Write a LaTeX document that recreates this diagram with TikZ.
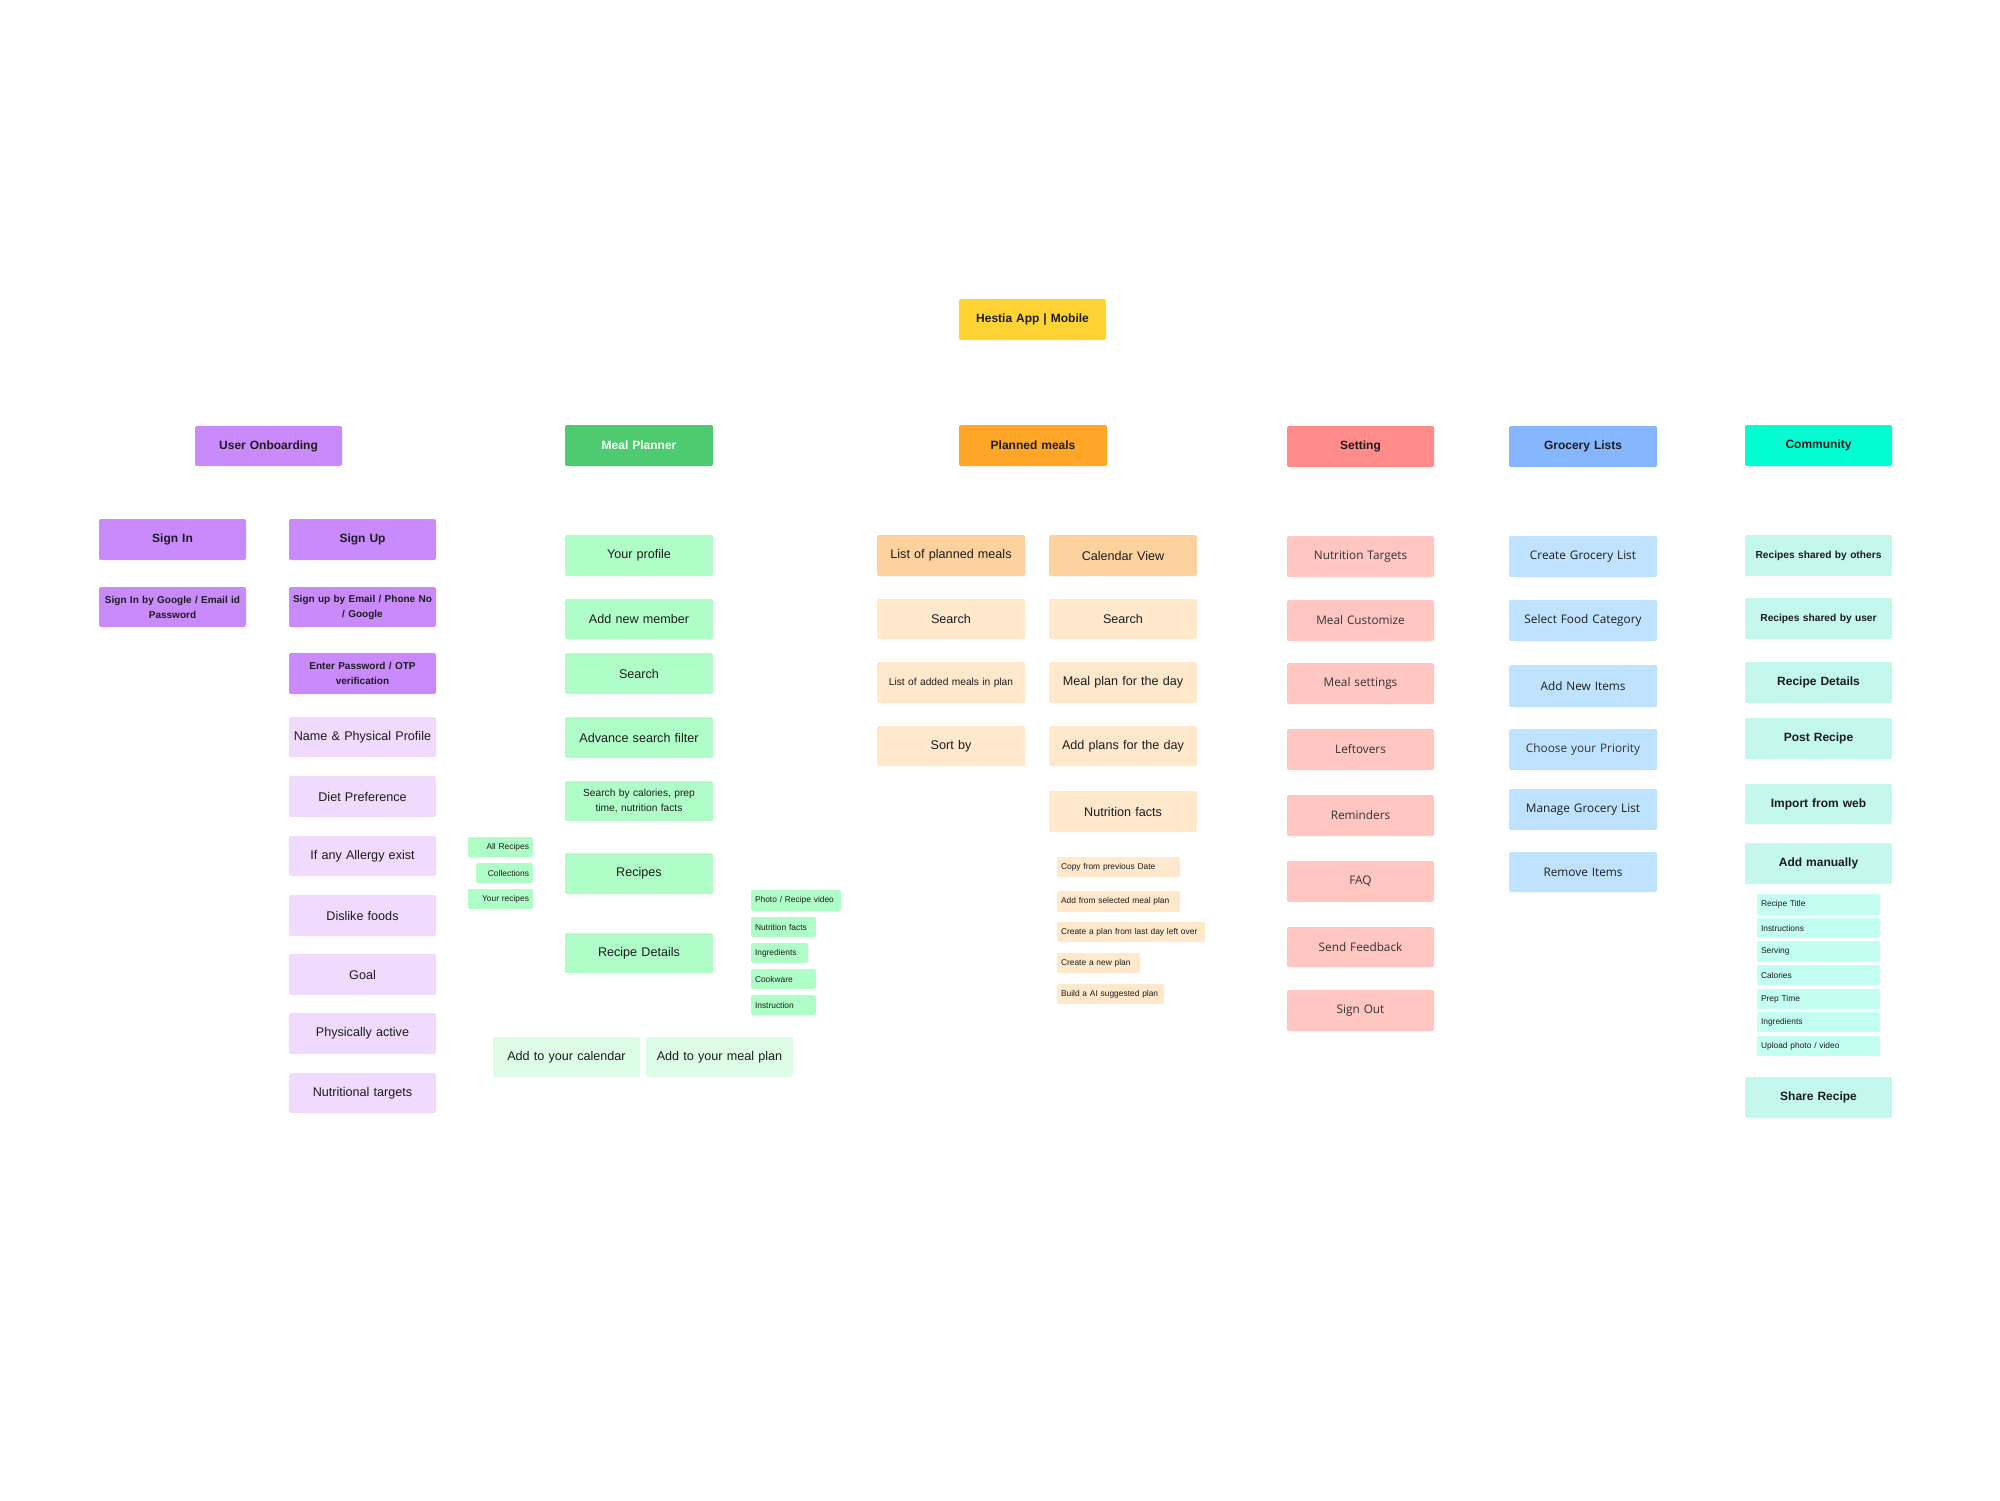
\documentclass[tikz,border=0pt]{standalone}
\usepackage{fontspec}
\setmainfont{Liberation Sans}
\newfontfamily\osans{Open Sans}
\definecolor{cYel}{HTML}{FFD333}
\definecolor{cPur}{HTML}{C98AFB}
\definecolor{cPurL}{HTML}{F0DAFD}
\definecolor{cGrn}{HTML}{4ECB71}
\definecolor{cGrnL}{HTML}{AFFEC8}
\definecolor{cGrnXL}{HTML}{DEFDE6}
\definecolor{cOrg}{HTML}{FFA629}
\definecolor{cOrgM}{HTML}{FDD29E}
\definecolor{cOrgL}{HTML}{FFE8CC}
\definecolor{cRed}{HTML}{FF8B8B}
\definecolor{cRedL}{HTML}{FFC6C2}
\definecolor{cBlu}{HTML}{86B7FE}
\definecolor{cBluL}{HTML}{BFE3FE}
\definecolor{cTea}{HTML}{02FDD2}
\definecolor{cTeaL}{HTML}{C4F7EE}
\definecolor{cTeaS}{HTML}{C2FEF2}
\definecolor{cTxt}{HTML}{1C1C1C}
\newcommand\bx[7][]{%
  \pgfmathsetmacro\bw{(#5-#3)*0.5}%
  \pgfmathsetmacro\bh{(#6-#4)*0.5}%
  \pgfmathsetmacro\tw{(#5-#3)*0.5-4}%
  \node[box,minimum width=\bw pt,minimum height=\bh pt,text width=\tw pt,#1]
    (#2) at ({(#3+#5)/2},{(#4+#6)/2}) {#7};}
\tikzset{
  box/.style={rectangle,rounded corners=1pt,inner xsep=2pt,inner ysep=0pt,
    align=center,text=cTxt,font=\fontsize{6.3}{7.5}\selectfont},
  hdr/.style={font=\fontsize{6}{7.5}\selectfont\bfseries},
  bsm/.style={font=\fontsize{5}{7.5}\selectfont\bfseries},
  rsm/.style={font=\fontsize{5.1}{7.5}\selectfont},
  tiny/.style={font=\fontsize{4.2}{5}\selectfont},
  osf/.style={font=\fontsize{5.9}{7}\selectfont\osans, text=black!80},
  ohdr/.style={font=\fontsize{6}{7}\selectfont\osans\bfseries},
}
\begin{document}
\begin{tikzpicture}[x=0.5pt,y=-0.5pt]
\useasboundingbox (0,0) rectangle (2000,1500);
\fill[white] (0,0) rectangle (2000,1500);
% top
\bx[fill=cYel,hdr]{hestia}{959}{299}{1106}{340}{Hestia App | Mobile}
% ---------- User Onboarding
\bx[fill=cPur,hdr]{uo}{195}{426}{342}{466}{User Onboarding}
\bx[fill=cPur,hdr]{signin}{99}{519}{246}{560}{Sign In}
\bx[fill=cPur,hdr]{signup}{289}{519}{436}{560}{Sign Up}
\bx[fill=cPur,bsm]{signinby}{99}{587}{246}{627}{Sign In by Google / Email id\\Password}
\bx[fill=cPur,bsm]{signupby}{289}{587}{436}{627}{Sign up by Email / Phone No\\/ Google}
\bx[fill=cPur,bsm]{enterpw}{289}{653}{436}{694}{Enter Password / OTP\\verification}
\bx[fill=cPurL]{name}{289}{717}{436}{757}{Name \& Physical Profile}
\bx[fill=cPurL]{diet}{289}{776}{436}{817}{Diet Preference}
\bx[fill=cPurL]{allergy}{289}{836}{436}{876}{If any Allergy exist}
\bx[fill=cPurL]{dislike}{289}{895}{436}{936}{Dislike foods}
\bx[fill=cPurL]{goal}{289}{954}{436}{995}{Goal}
\bx[fill=cPurL]{phys}{289}{1013}{436}{1054}{Physically active}
\bx[fill=cPurL]{nutr}{289}{1073}{436}{1113}{Nutritional targets}
% ---------- Meal Planner
\bx[fill=cGrn,hdr,text=white]{mp}{565}{425}{713}{466}{Meal Planner}
\bx[fill=cGrnL]{profile}{565}{535}{713}{576}{Your profile}
\bx[fill=cGrnL]{addmem}{565}{599}{713}{639}{Add new member}
\bx[fill=cGrnL]{msearch}{565}{653}{713}{694}{Search}
\bx[fill=cGrnL]{adv}{565}{717}{713}{758}{Advance search filter}
\bx[fill=cGrnL,rsm]{sbc}{565}{781}{713}{821}{Search by calories, prep\\time, nutrition facts}
\bx[fill=cGrnL]{recipes}{565}{853}{713}{894}{Recipes}
\bx[fill=cGrnL]{recdet}{565}{933}{713}{973}{Recipe Details}
\bx[fill=cGrnL,tiny,align=right]{allrec}{468}{837}{533}{857}{All Recipes}
\bx[fill=cGrnL,tiny,align=right]{coll}{476}{863}{533}{883}{Collections}
\bx[fill=cGrnL,tiny,align=right]{yourrec}{468}{889}{533}{909}{Your recipes}
\bx[fill=cGrnL,tiny,align=left]{photo}{751}{890}{841}{911}{Photo / Recipe video}
\bx[fill=cGrnL,tiny,align=left]{rnf}{751}{917}{816}{937}{Nutrition facts}
\bx[fill=cGrnL,tiny,align=left]{ingr}{751}{943}{808}{963}{Ingredients}
\bx[fill=cGrnL,tiny,align=left]{cookw}{751}{969}{816}{989}{Cookware}
\bx[fill=cGrnL,tiny,align=left]{instr}{751}{995}{816}{1015}{Instruction}
\bx[fill=cGrnXL]{addcal}{493}{1037}{640}{1077}{Add to your calendar}
\bx[fill=cGrnXL]{addplan}{646}{1037}{793}{1077}{Add to your meal plan}
% ---------- Planned meals
\bx[fill=cOrg,hdr]{pm}{959}{425}{1107}{466}{Planned meals}
\bx[fill=cOrgM]{lpm}{877}{535}{1025}{576}{List of planned meals}
\bx[fill=cOrgM]{calv}{1049}{535}{1197}{576}{Calendar View}
\bx[fill=cOrgL]{ps1}{877}{599}{1025}{639}{Search}
\bx[fill=cOrgL]{ps2}{1049}{599}{1197}{639}{Search}
\bx[fill=cOrgL,rsm]{lam}{877}{662}{1025}{703}{List of added meals in plan}
\bx[fill=cOrgL]{mpd}{1049}{662}{1197}{703}{Meal plan for the day}
\bx[fill=cOrgL]{sortby}{877}{726}{1025}{766}{Sort by}
\bx[fill=cOrgL]{apd}{1049}{726}{1197}{766}{Add plans for the day}
\bx[fill=cOrgL]{pnf}{1049}{791}{1197}{832}{Nutrition facts}
\bx[fill=cOrgL,tiny,align=left]{copy}{1057}{857}{1180}{877}{Copy from previous Date}
\bx[fill=cOrgL,tiny,align=left]{addsel}{1057}{891}{1180}{912}{Add from selected meal plan}
\bx[fill=cOrgL,tiny,align=left]{leftov}{1057}{922}{1205}{942}{Create a plan from last day left over}
\bx[fill=cOrgL,tiny,align=left]{newplan}{1057}{953}{1140}{973}{Create a new plan}
\bx[fill=cOrgL,tiny,align=left]{aiplan}{1057}{984}{1164}{1004}{Build a AI suggested plan}
% ---------- Setting
\bx[fill=cRed,hdr]{set}{1287}{426}{1434}{467}{Setting}
\bx[fill=cRedL,osf]{snt}{1287}{536}{1434}{577}{Nutrition Targets}
\bx[fill=cRedL,osf]{smc}{1287}{600}{1434}{641}{Meal Customize}
\bx[fill=cRedL,osf]{sms}{1287}{663}{1434}{704}{Meal settings}
\bx[fill=cRedL,osf]{slo}{1287}{729}{1434}{770}{Leftovers}
\bx[fill=cRedL,osf]{srm}{1287}{795}{1434}{836}{Reminders}
\bx[fill=cRedL,osf]{sfaq}{1287}{861}{1434}{902}{FAQ}
\bx[fill=cRedL,osf]{sfb}{1287}{927}{1434}{967}{Send Feedback}
\bx[fill=cRedL,osf]{sout}{1287}{990}{1434}{1031}{Sign Out}
% ---------- Grocery
\bx[fill=cBlu,hdr]{gl}{1509}{426}{1657}{467}{Grocery Lists}
\bx[fill=cBluL,osf,text=cTxt]{gcl}{1509}{536}{1657}{577}{Create Grocery List}
\bx[fill=cBluL,osf,text=cTxt]{gfc}{1509}{600}{1657}{641}{Select Food Category}
\bx[fill=cBluL,osf,text=cTxt]{gni}{1509}{665}{1657}{707}{Add New Items}
\bx[fill=cBluL,osf]{gpr}{1509}{729}{1657}{770}{Choose your Priority}
\bx[fill=cBluL,osf,text=cTxt]{gmg}{1509}{789}{1657}{830}{Manage Grocery List}
\bx[fill=cBluL,osf,text=cTxt]{grm}{1509}{852}{1657}{892}{Remove Items}
% ---------- Community
\bx[fill=cTea,hdr]{com}{1745}{425}{1892}{466}{Community}
\bx[fill=cTeaL,bsm,font=\fontsize{5.1}{6}\selectfont\bfseries]{rso}{1745}{535}{1892}{576}{Recipes shared by others}
\bx[fill=cTeaL,bsm,font=\fontsize{5.1}{6}\selectfont\bfseries]{rsu}{1745}{598}{1892}{639}{Recipes shared by user}
\bx[fill=cTeaL,hdr]{crd}{1745}{662}{1892}{703}{Recipe Details}
\bx[fill=cTeaL,hdr]{post}{1745}{718}{1892}{759}{Post Recipe}
\bx[fill=cTeaL,hdr]{imp}{1745}{784}{1892}{824}{Import from web}
\bx[fill=cTeaL,hdr]{man}{1745}{843}{1892}{884}{Add manually}
\bx[fill=cTeaS,tiny,align=left]{rt}{1757}{894}{1880}{915}{Recipe Title}
\bx[fill=cTeaS,tiny,align=left]{ri}{1757}{918}{1880}{938}{Instructions}
\bx[fill=cTeaS,tiny,align=left]{rs}{1757}{941}{1880}{962}{Serving}
\bx[fill=cTeaS,tiny,align=left]{rc}{1757}{965}{1880}{985}{Calories}
\bx[fill=cTeaS,tiny,align=left]{rp}{1757}{989}{1880}{1009}{Prep Time}
\bx[fill=cTeaS,tiny,align=left]{rg}{1757}{1012}{1880}{1032}{Ingredients}
\bx[fill=cTeaS,tiny,align=left]{ru}{1757}{1036}{1880}{1056}{Upload photo / video}
\bx[fill=cTeaL,hdr]{share}{1745}{1077}{1892}{1118}{Share Recipe}
\end{tikzpicture}
\end{document}
